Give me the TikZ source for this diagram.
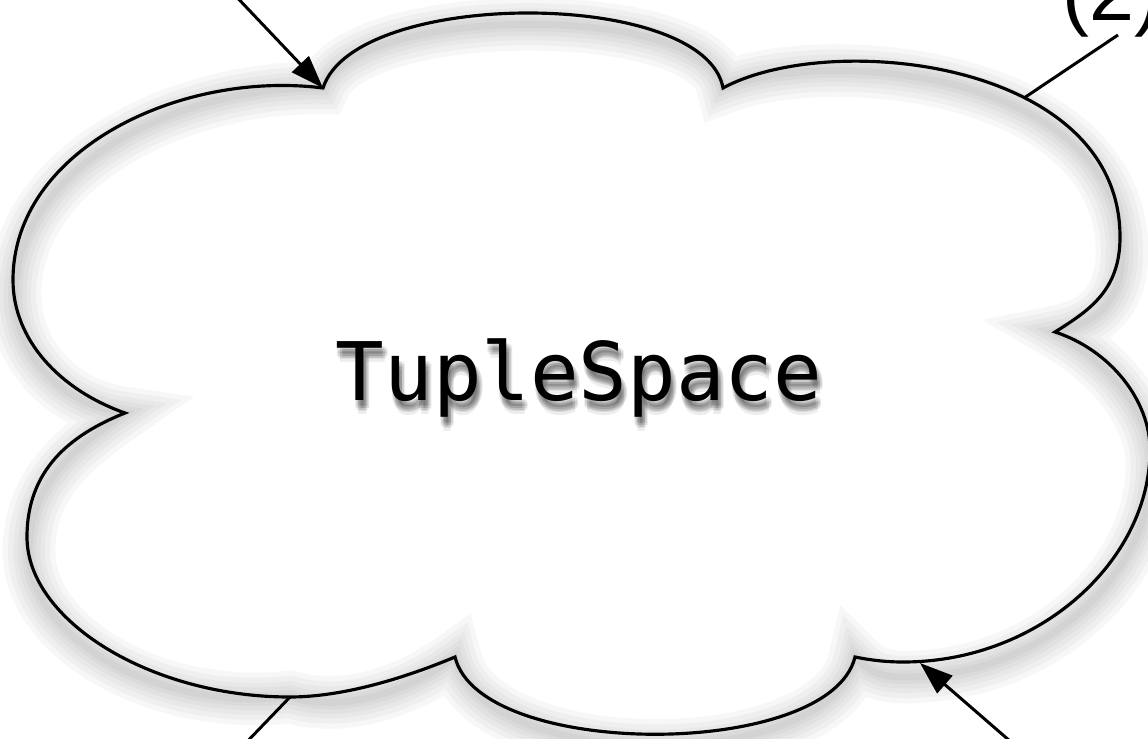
\documentclass[tikz,border=0pt]{standalone}
\usepackage{fontspec}
\setmonofont{DejaVu Sans Mono}
\newfontfamily\tagfont{Liberation Sans}
\usetikzlibrary{arrows.meta}

% Outline of the cloud, from cusp to cusp (pixel units, y down)
\newcommand\CloudPath{%
    (cuspNW) .. controls (355,-12) and (705,-12) .. (cuspN)
    .. controls (830,30) and (1120,60) .. (1120,237)
    .. controls (1120,290) and (1090,310) .. (cuspE)
    .. controls (1110,350) and (1150,400) .. (1150,450)
    .. controls (1150,560) and (1040,662) .. (903,662)
    .. controls (885,662) and (870,660) .. (cuspSE)
    .. controls (830,760) and (480,760) .. (cuspSW)
    .. controls (400,680) and (340,697) .. (tapS)
    .. controls (150,697) and (27,620) .. (27,537)
    .. controls (27,470) and (70,435) .. (cuspW)
    .. controls (60,390) and (13,340) .. (13,280)
    .. controls (13,150) and (180,70) .. (cuspNW) -- cycle%
}

\tikzset{
    cloudline/.style={draw=black, line width=1.8pt},
    cloudshade/.style={draw=black, opacity=0.03, yshift=-0.3cm, xshift=0.04cm},
    link/.style={draw=black, line width=1.7pt},
    linkarrow/.style={link, -{Triangle[length=0.66cm,width=0.46cm]}},
    spacetext/.style={inner sep=0pt, anchor=base, font=\ttfamily\fontsize{46}{50}\selectfont},
}

\begin{document}
\begin{tikzpicture}[x=0.02cm, y=-0.02cm]
    % Fix the frame to the picture size
    \clip (0,0) rectangle (1148,739);
    % Cusps and touch points of the cloud
    \coordinate (cuspNW) at (323,88);
    \coordinate (cuspN) at (723,88);
    \coordinate (cuspE) at (1055,332);
    \coordinate (cuspSE) at (855,657);
    \coordinate (cuspSW) at (455,657);
    \coordinate (cuspW) at (125,413);
    \coordinate (tapNE) at (1024,98);
    \coordinate (tapS) at (290,697);
    \coordinate (tipSE) at (920,663);

    % Soft shadow cast by the outline
    \foreach \w in {30,24,18,13,8,4}
        \draw[cloudshade, line width=\w pt] \CloudPath;
    % Draw the cloud
    \draw[cloudline] \CloudPath;

    % Label the space, with a soft shadow under the text
    \foreach \dx/\dy in {0/0,-3/0,3/0,0/-3,0/3,-2/-2,2/2,-2/2,2/-2,0/6}
        \node[spacetext, text=black, opacity=0.07] at (582+\dx,408+\dy) {TupleSpace};
    \node[spacetext] (space) at (579,400) {TupleSpace};

    % Step tag at the top right
    \node[inner sep=0pt, anchor=base west, font=\tagfont\fontsize{46}{50}\selectfont] (two) at (1062,21) {(2)};
    \coordinate (tagNE) at (1118,35);

    % Connectors running off the frame
    \coordinate (feedNW) at (230,-10);
    \coordinate (outSW) at (240,749);
    \coordinate (feedSE) at (1018,748);
    \draw[linkarrow] (feedNW) -- (cuspNW);
    \draw[link] (tapNE) -- (tagNE);
    \draw[link] (tapS) -- (outSW);
    \draw[linkarrow] (feedSE) -- (tipSE);
\end{tikzpicture}
\end{document}
